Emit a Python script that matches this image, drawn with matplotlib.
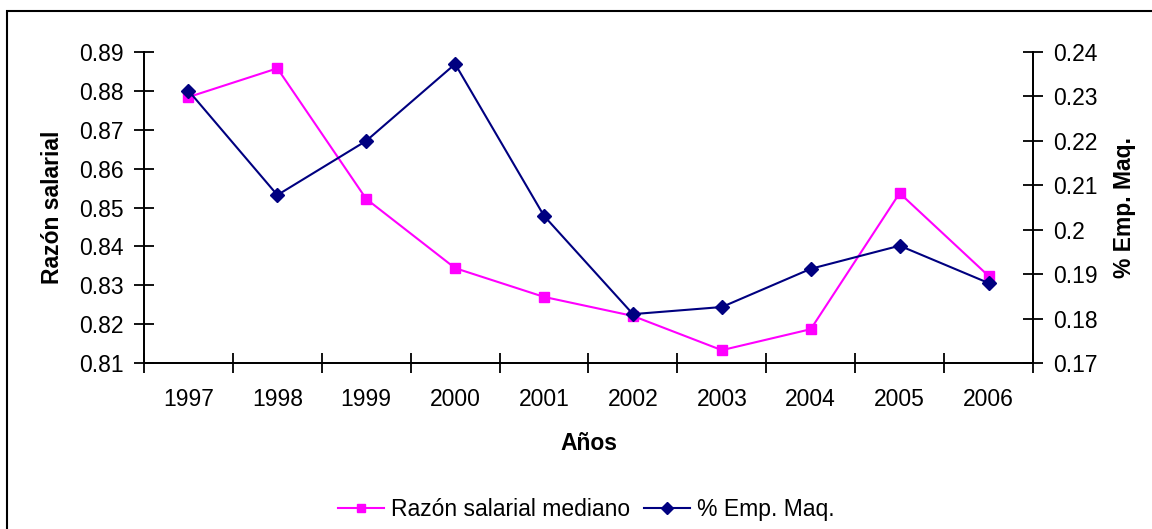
import numpy as np
import matplotlib.pyplot as plt
from matplotlib.patches import Rectangle

plt.rcParams['font.family'] = ['Liberation Sans', 'DejaVu Sans']

# datos
anios = ['1997', '1998', '1999', '2000', '2001', '2002', '2003', '2004', '2005', '2006']
razon_salarial = [0.8784, 0.8858, 0.8522, 0.8344, 0.8270, 0.8221, 0.8133, 0.8187, 0.8537, 0.8324]
emp_maq = [0.2313, 0.2078, 0.2200, 0.2373, 0.2031, 0.1810, 0.1826, 0.1912, 0.1964, 0.1880]

izq_ticks = np.arange(0.81, 0.8901, 0.01)
der_ticks = np.arange(0.17, 0.2401, 0.01)

fs = 16.5

fig = plt.figure(figsize=(11.52, 5.29), dpi=100)
ax = fig.add_axes([0.125, 0.3138, 0.7717, 0.5879])
ax2 = ax.twinx()

x = np.arange(len(anios))
l1, = ax.plot(x, razon_salarial, color='#FF00FF', lw=1.5, marker='s', ms=7,
              label='Razón salarial mediano')
l2, = ax2.plot(x, emp_maq, color='#000080', lw=1.5, marker='D', ms=7,
               label='% Emp. Maq.')

ax.set_xlim(-0.5, len(anios) - 0.5)
ax.set_ylim(0.81, 0.89)
ax.set_yticks(izq_ticks)
ax.set_yticklabels([f'{v:.2f}' for v in izq_ticks])
ax2.set_ylim(0.17, 0.24)
ax2.set_yticks(der_ticks)
ax2.set_yticklabels([f'{v:.2f}'.rstrip('0') for v in der_ticks])

# ticks de categoría entre años, etiquetas centradas
ax.set_xticks(np.arange(-0.5, len(anios), 1.0))
ax.set_xticklabels([])
ax.set_xticks(x, minor=True)
ax.set_xticklabels(anios, minor=True)
ax.tick_params(axis='x', which='minor', length=0, pad=18, labelsize=fs)
ax.tick_params(axis='x', which='major', direction='inout', length=15, width=1.3)

for a in (ax, ax2):
    a.spines['top'].set_visible(False)
    for s in ('left', 'right', 'bottom'):
        a.spines[s].set_linewidth(1.3)
ax.tick_params(axis='y', direction='inout', length=15, width=1.3, labelsize=fs, pad=7)
ax2.tick_params(axis='y', direction='inout', length=15, width=1.3, labelsize=fs, pad=7)

ax.set_xlabel('Años', fontsize=fs, fontweight='bold', labelpad=15)
ax.set_ylabel('Razón salarial', fontsize=fs, fontweight='bold', labelpad=11)
ax2.set_ylabel('% Emp. Maq.', fontsize=fs, fontweight='bold', labelpad=11)

fig.legend(handles=[l1, l2], loc='center', bbox_to_anchor=(0.509, 0.036), ncol=2,
           frameon=False, fontsize=fs, handlelength=2.0, columnspacing=0.6,
           handletextpad=0.3, markerscale=0.85)

# marco exterior del gráfico
fig.patches.append(Rectangle((7 / 1152, -0.2), 1.2, 1 - 11 / 529 + 0.2,
                             transform=fig.transFigure, fill=False,
                             edgecolor='black', lw=1.5))

plt.savefig('out.png', dpi=100)
